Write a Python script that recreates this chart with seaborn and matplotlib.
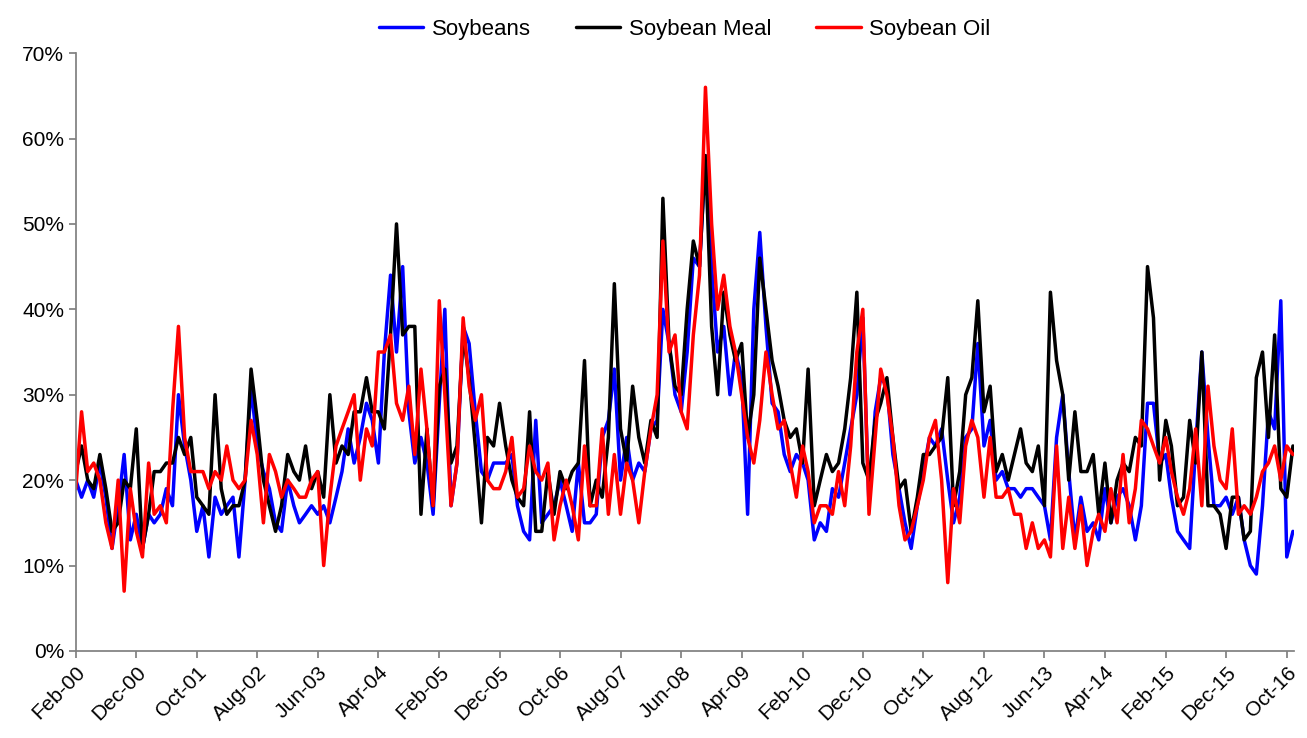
import numpy as np
import pandas as pd
import matplotlib
matplotlib.use("Agg")
import matplotlib.pyplot as plt
import seaborn as sns

soybeans = [20,18,20,18,22,18,12,17,23,13,16,
    12,16,15,16,19,17,30,24,20,14,17,11,
    18,16,17,18,11,20,31,24,21,19,15,14,
    20,17,15,16,17,16,17,15,18,21,26,22,
    25,29,27,22,35,44,35,45,28,22,25,22,
    16,29,40,17,22,38,36,28,21,20,22,22,
    22,23,17,14,13,27,15,16,17,20,17,14,
    22,15,15,16,25,27,33,20,25,20,22,21,
    26,27,40,36,30,28,35,46,45,58,45,35,
    38,30,35,32,16,40,49,38,29,28,23,21,
    23,22,20,13,15,14,19,18,22,26,30,39,
    17,28,32,31,23,19,15,12,17,21,25,24,
    26,20,15,18,25,26,36,24,27,20,21,19,
    19,18,19,19,18,17,13,25,30,21,13,18,
    14,15,13,19,15,18,19,17,13,17,29,29,
    22,23,18,14,13,12,24,35,25,17,17,18,
    16,18,13,10,9,17,28,26,41,11,14]
soymeal = [21,24,20,19,23,19,14,15,20,19,26,
    12,16,21,21,22,22,25,23,25,18,17,16,
    30,19,16,17,17,20,33,27,20,17,14,17,
    23,21,20,24,19,21,18,30,22,24,23,28,
    28,32,28,28,26,37,50,37,38,38,16,26,
    17,31,33,22,24,37,32,24,15,25,24,29,
    24,20,18,17,28,14,14,21,16,21,19,21,
    22,34,17,20,18,25,43,26,22,31,25,22,
    27,25,53,36,31,30,40,48,45,58,38,30,
    42,37,34,36,25,30,46,40,34,31,27,25,
    26,22,33,17,20,23,21,22,26,32,42,22,
    20,27,29,32,25,19,20,14,18,23,23,24,
    25,32,17,21,30,32,41,28,31,21,23,20,
    23,26,22,21,24,17,42,34,30,20,28,21,
    21,23,16,22,15,20,22,21,25,24,45,39,
    20,27,24,17,18,27,22,35,17,17,16,12,
    18,18,13,14,32,35,25,37,19,18,24]
soyoil = [19,28,21,22,20,15,12,20,7,19,14,
    11,22,16,17,15,28,38,25,21,21,21,19,
    21,20,24,20,19,20,27,23,15,23,21,18,
    20,19,18,18,20,21,10,18,24,26,28,30,
    20,26,24,35,35,37,29,27,31,23,33,26,
    17,41,30,17,22,39,31,27,30,20,19,19,
    21,25,18,19,24,21,20,22,13,17,20,17,
    13,24,17,17,26,16,23,16,22,20,15,21,
    26,30,48,35,37,28,26,37,44,66,50,40,
    44,38,35,30,25,22,27,35,30,26,27,22,
    18,24,21,15,17,17,16,21,17,24,35,40,
    16,25,33,30,25,17,13,14,17,20,25,27,
    20,8,19,15,24,27,25,18,25,18,18,19,
    16,16,12,15,12,13,11,24,12,18,12,17,
    10,14,16,14,19,15,23,15,19,27,26,24,
    22,25,21,18,16,19,26,17,31,24,20,19,
    26,16,17,16,18,21,22,24,20,24,23]

dates = pd.date_range("2000-02-01", periods=len(soybeans), freq="MS")
df = pd.concat([
    pd.DataFrame({"date": dates, "value": np.array(soybeans)/100, "series": "Soybeans"}),
    pd.DataFrame({"date": dates, "value": np.array(soymeal)/100, "series": "Soybean Meal"}),
    pd.DataFrame({"date": dates, "value": np.array(soyoil)/100, "series": "Soybean Oil"}),
])

sns.set_theme(style="white")
plt.rcParams['font.family'] = ['Liberation Sans', 'DejaVu Sans']
plt.rcParams['text.color'] = 'black'
plt.rcParams['xtick.color'] = 'black'
plt.rcParams['ytick.color'] = 'black'
fig, ax = plt.subplots(figsize=(13.07, 7.38), dpi=100)
fig.subplots_adjust(left=0.058, right=0.99, top=0.928, bottom=0.118)
sns.lineplot(data=df, x="date", y="value", hue="series",
             palette={"Soybeans": "#0000ff", "Soybean Meal": "#000000", "Soybean Oil": "#ff0000"},
             linewidth=2.5, ax=ax)
ax.set_ylim(0, 0.7)
ax.set_yticks(np.arange(0, 0.71, 0.1))
ax.set_yticklabels([f"{int(round(v*100))}%" for v in np.arange(0, 0.71, 0.1)], fontsize=15)
ticks = dates[::10]
ax.set_xticks(ticks)
ax.set_xticklabels([d.strftime("%b-%y") for d in ticks], rotation=45, ha="right", rotation_mode="anchor", fontsize=15)
ax.set_xlim(dates[0], dates[-1] + pd.Timedelta(days=5))
ax.set_xlabel(""); ax.set_ylabel("")
for s in ["top", "right"]:
    ax.spines[s].set_visible(False)
for s in ["left", "bottom"]:
    ax.spines[s].set_color("#808080")
ax.tick_params(axis="both", direction="out", length=5, color="#808080", labelcolor="black", left=True, bottom=True)
leg = ax.legend(loc="lower center", bbox_to_anchor=(0.5, 1.0), ncol=3, frameon=False, fontsize=16,
                handlelength=2.0, handletextpad=0.4, columnspacing=2.0, borderaxespad=0.2)
for t in leg.get_texts():
    t.set_color("black")
fig.savefig("out.png", dpi=100)
